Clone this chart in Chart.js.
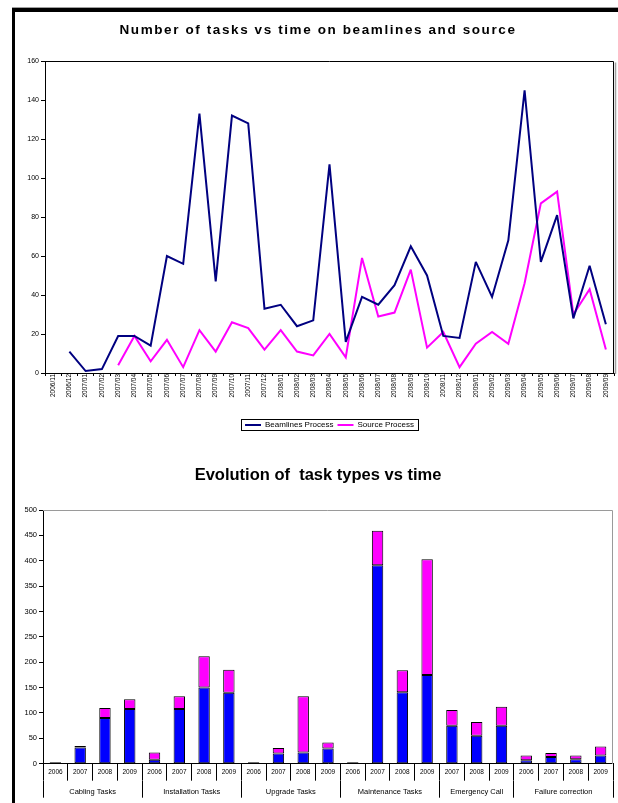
<!DOCTYPE html>
<html>
<head>
<meta charset="utf-8">
<script src="https://cdn.jsdelivr.net/npm/chart.js@4.4.1/dist/chart.umd.min.js"></script>
<style>
html,body{margin:0;padding:0;background:#fff;}
#page{position:relative;width:618px;height:803px;overflow:hidden;background:#fff;}
#frameShade{position:absolute;left:12px;top:7px;width:606px;height:1px;background:#a0a0a0;}
#frame{position:absolute;left:12px;top:8px;width:620px;height:820px;border-left:3px solid #000;border-top:4px solid #000;}
canvas{position:absolute;left:0;}
#c1{top:0;}
#c2{top:440px;}
</style>
</head>
<body>
<div id="page">
  <div id="frameShade"></div>
  <div id="frame"></div>
  <canvas id="c1" width="618" height="445"></canvas>
  <canvas id="c2" width="618" height="363"></canvas>
</div>
<script>
// ---------- data: top chart ----------
const months = ['2006/11','2006/12',
  '2007/01','2007/02','2007/03','2007/04','2007/05','2007/06','2007/07','2007/08','2007/09','2007/10','2007/11','2007/12',
  '2008/01','2008/02','2008/03','2008/04','2008/05','2008/06','2008/07','2008/08','2008/09','2008/10','2008/11','2008/12',
  '2009/01','2009/02','2009/03','2009/04','2009/05','2009/06','2009/07','2009/08','2009/09'];
const beamlinesProcess = [null, 11, 1, 2, 19, 19, 14, 60, 56, 133, 47, 132, 128, 33,
  35, 24, 27, 107, 16, 39, 35, 45, 65, 50, 19, 18,
  57, 39, 68, 145, 57, 81, 28, 55, 25];
const sourceProcess = [null, null, null, null, 4, 19, 6, 17, 3, 22, 11, 26, 23, 12,
  22, 11, 9, 20, 8, 59, 29, 31, 53, 13, 21, 3,
  15, 21, 15, 46, 87, 93, 30, 43, 12];
const topYTicks = [0, 20, 40, 60, 80, 100, 120, 140, 160];
const topTitle = 'Number of tasks vs time on beamlines and source';

// ---------- data: bottom chart ----------
const years = ['2006','2007','2008','2009', '2006','2007','2008','2009', '2006','2007','2008','2009',
  '2006','2007','2008','2009', '2007','2008','2009', '2006','2007','2008','2009'];
const groups = ['Cabling Tasks','Installation Tasks','Upgrade Tasks','Maintenance Tasks','Emergency Call','Failure correction'];
const groupSizes = [4, 4, 4, 4, 3, 4];
const bluePart = [1, 32, 90, 108, 8, 108, 150, 140, 1, 20, 22, 30, 1, 391, 141, 175, 75, 55, 75, 7, 13, 9, 16];
const magentaPart = [2, 3, 20, 19, 14, 25, 62, 45, 2, 11, 111, 12, 2, 68, 43, 228, 31, 27, 37, 9, 8, 7, 18];
const bottomYTicks = [0, 50, 100, 150, 200, 250, 300, 350, 400, 450, 500];
const bottomTitle = 'Evolution of  task types vs time';

// ---------- shared ----------
const FONT = '"Liberation Sans", Arial, Helvetica, sans-serif';
Chart.defaults.font.family = FONT;
Chart.defaults.color = '#000';
Chart.defaults.animation = false;

const titlePlugin = {
  id: 'docTitle',
  afterDraw(chart, args, o) {
    const ctx = chart.ctx;
    ctx.save();
    ctx.font = o.font;
    ctx.fillStyle = '#000';
    ctx.textAlign = 'center';
    ctx.textBaseline = 'middle';
    if ('letterSpacing' in ctx) ctx.letterSpacing = o.spacing || '0px';
    ctx.fillText(o.text, o.x, o.y);
    ctx.restore();
  }
};

const miterPlugin = {
  id: 'miterLimit',
  beforeDatasetsDraw(chart) { chart.ctx.save(); chart.ctx.miterLimit = 3; },
  afterDatasetsDraw(chart) { chart.ctx.restore(); }
};

const plotFramePlugin = {
  id: 'plotFrame',
  afterDraw(chart, args, o) {
    const {left, top, right, bottom} = chart.chartArea;
    const ctx = chart.ctx;
    ctx.save();
    ctx.lineWidth = 1;
    ctx.strokeStyle = o.color;
    const t = Math.round(top) + 0.5, r = Math.round(right) - 0.5;
    ctx.beginPath();
    ctx.moveTo(Math.round(left), t);
    ctx.lineTo(r, t);
    ctx.lineTo(r, Math.round(bottom));
    ctx.stroke();
    if (o.shadow) {
      ctx.strokeStyle = o.shadow;
      ctx.lineWidth = 1.5;
      ctx.beginPath();
      ctx.moveTo(r + 2, t + 1);
      ctx.lineTo(r + 2, Math.round(bottom) + 1);
      ctx.stroke();
    }
    ctx.restore();
  }
};

const legendFramePlugin = {
  id: 'legendFrame',
  afterDraw(chart, args, o) {
    const lg = chart.legend;
    if (!lg || !lg.legendHitBoxes || !lg.legendHitBoxes.length) return;
    const hb = lg.legendHitBoxes;
    const l = Math.min(...hb.map(h => h.left));
    const r = Math.max(...hb.map(h => h.left + h.width));
    const t = Math.min(...hb.map(h => h.top));
    const b = Math.max(...hb.map(h => h.top + h.height));
    const ctx = chart.ctx;
    ctx.save();
    ctx.strokeStyle = o.color;
    ctx.lineWidth = 1;
    ctx.strokeRect(Math.round(l - 4) + 0.5, Math.round(t - 2) + 0.5, Math.round(r - l + 8), Math.round(b - t + 3));
    ctx.restore();
  }
};

// ---------- top chart ----------
new Chart(document.getElementById('c1'), {
  type: 'line',
  data: {
    labels: months,
    datasets: [
      {label: 'Beamlines Process', data: beamlinesProcess, borderColor: '#000080', backgroundColor: '#000080',
       borderWidth: 2, pointRadius: 0, tension: 0, spanGaps: false, fill: false},
      {label: 'Source Process', data: sourceProcess, borderColor: '#FF00FF', backgroundColor: '#FF00FF',
       borderWidth: 2, pointRadius: 0, tension: 0, spanGaps: false, fill: false}
    ]
  },
  options: {
    responsive: false,
    animation: false,
    events: [],
    layout: {padding: {left: 20, right: 4, top: 61, bottom: 6}},
    plugins: {
      legend: {
        display: true, position: 'bottom', fullSize: false,
        labels: {usePointStyle: true, pointStyle: 'line', pointStyleWidth: 16, boxHeight: 8,
                 font: {size: 8}, padding: 4, color: '#000'}
      },
      tooltip: {enabled: false},
      docTitle: {text: topTitle, font: 'bold 13.5px ' + FONT, x: 318, y: 30, spacing: '1.6px'},
      plotFrame: {color: '#000', shadow: '#a0a0a0'},
      legendFrame: {color: '#000'}
    },
    scales: {
      x: {
        type: 'category', offset: true,
        grid: {offset: true, drawOnChartArea: false, drawTicks: true, tickLength: 3, tickColor: '#000'},
        border: {display: true, color: '#000', width: 1},
        ticks: {autoSkip: false, minRotation: 90, maxRotation: 90, font: {size: 6.5}, padding: -2, color: '#000'},
        afterFit(s) { s.height = 44; }
      },
      y: {
        min: 0, max: 160,
        afterBuildTicks(s) { s.ticks = topYTicks.map(v => ({value: v})); },
        grid: {drawOnChartArea: false, drawTicks: true, tickLength: 4, tickColor: '#000'},
        border: {display: true, color: '#000', width: 1},
        ticks: {font: {size: 7}, padding: 2, color: '#000'},
        afterFit(s) { s.width = 25; }
      }
    }
  },
  plugins: [titlePlugin, miterPlugin, plotFramePlugin, legendFramePlugin]
});

// ---------- bottom chart ----------
const groupTickVals = [];
const groupLabelAt = {};
const groupBoundary = {};
(function () {
  let start = -0.5;
  groupTickVals.push(start); groupBoundary[start] = true;
  groups.forEach((g, i) => {
    const c = start + groupSizes[i] / 2;
    groupTickVals.push(c); groupLabelAt[c] = g;
    start += groupSizes[i];
    groupTickVals.push(start); groupBoundary[start] = true;
  });
})();

new Chart(document.getElementById('c2'), {
  type: 'bar',
  data: {
    labels: years,
    datasets: [
      {label: 'Series 1', data: bluePart, backgroundColor: '#0000FF', borderColor: '#000', borderWidth: 1,
       borderSkipped: false, barPercentage: 0.46, categoryPercentage: 1},
      {label: 'Series 2', data: magentaPart, backgroundColor: '#FF00FF', borderColor: '#000', borderWidth: 1,
       borderSkipped: false, barPercentage: 0.46, categoryPercentage: 1}
    ]
  },
  options: {
    responsive: false,
    animation: false,
    events: [],
    layout: {padding: {left: 16, right: 5, top: 70, bottom: 5.3}},
    plugins: {
      legend: {display: false},
      tooltip: {enabled: false},
      docTitle: {text: bottomTitle, font: 'bold 16.5px ' + FONT, x: 318, y: 35, spacing: '0px'},
      plotFrame: {color: '#9a9a9a'}
    },
    scales: {
      x: {
        stacked: true, offset: true, weight: 0,
        grid: {offset: true, drawOnChartArea: false, drawTicks: true, tickLength: 17, tickColor: '#000'},
        border: {display: true, color: '#000', width: 1},
        ticks: {autoSkip: false, minRotation: 0, maxRotation: 0, font: {size: 6.5}, padding: -12.4, color: '#000'},
        afterFit(s) { s.height = 17; }
      },
      x2: {
        type: 'linear', position: 'bottom', weight: 1, offset: false,
        min: -0.5, max: years.length - 0.5,
        afterBuildTicks(s) { s.ticks = groupTickVals.map(v => ({value: v})); },
        grid: {offset: false, drawOnChartArea: false, drawTicks: true, tickLength: 17,
               tickColor: (c) => (c.tick && groupBoundary[c.tick.value]) ? '#000' : 'rgba(0,0,0,0)'},
        border: {display: false},
        ticks: {autoSkip: false, minRotation: 0, maxRotation: 0, font: {size: 7.5}, padding: -10.7, color: '#000',
                callback: (v) => groupLabelAt[v] || ''},
        afterFit(s) { s.height = 17; }
      },
      y: {
        stacked: true, min: 0, max: 500,
        afterBuildTicks(s) { s.ticks = bottomYTicks.map(v => ({value: v})); },
        grid: {drawOnChartArea: false, drawTicks: true, tickLength: 4, tickColor: '#000'},
        border: {display: true, color: '#000', width: 1},
        ticks: {font: {size: 7.5}, padding: 2, color: '#000'},
        afterFit(s) { s.width = 27; }
      }
    }
  },
  plugins: [titlePlugin, plotFramePlugin]
});
</script>
</body>
</html>
